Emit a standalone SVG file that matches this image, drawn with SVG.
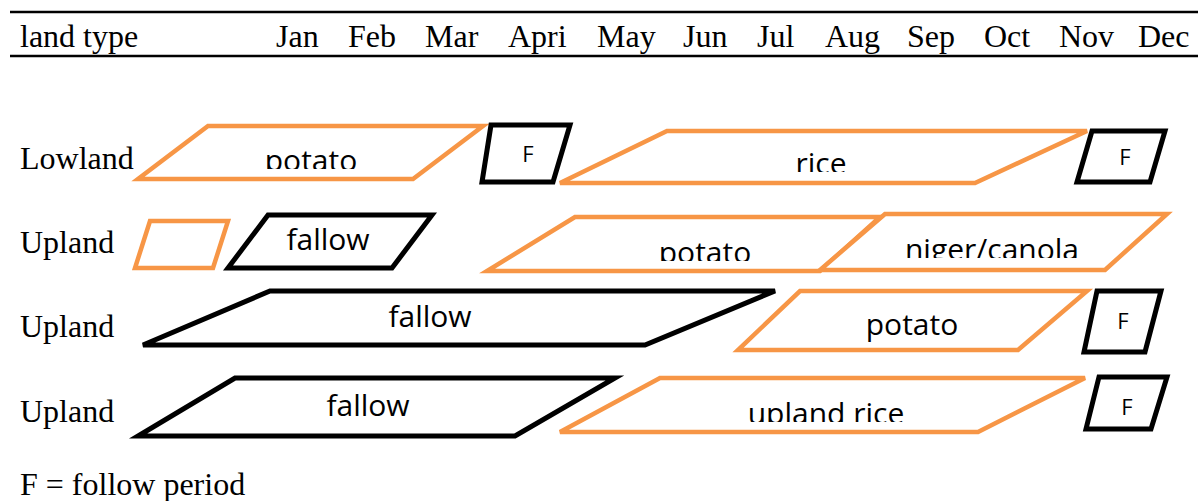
<svg xmlns="http://www.w3.org/2000/svg" width="1198" height="501" viewBox="0 0 1198 501">
<style>
.hd{font-family:"Liberation Serif","Times New Roman",serif;font-size:32px;fill:#000}
.lb{font-family:"Open Sans","DejaVu Sans",sans-serif;font-size:30px;fill:#000;text-anchor:middle}
.f{font-family:"Open Sans","DejaVu Sans",sans-serif;font-size:22px;fill:#000;text-anchor:middle}
.o{fill:#fff;stroke:#F79646;stroke-width:4.5;stroke-linejoin:miter}
.k{fill:#fff;stroke:#000;stroke-width:5;stroke-linejoin:miter}
</style>
<defs>
<clipPath id="c1"><rect x="0" y="0" width="1198" height="169"/></clipPath>
<clipPath id="c2"><rect x="0" y="0" width="1198" height="172"/></clipPath>
<clipPath id="c3"><rect x="0" y="0" width="1198" height="261"/></clipPath>
<clipPath id="c4"><rect x="0" y="0" width="1198" height="258"/></clipPath>
<clipPath id="c5"><rect x="0" y="0" width="1198" height="422"/></clipPath>
</defs>
<rect width="1198" height="501" fill="#fff"/>
<g id="header">
<line x1="10" y1="12" x2="1198" y2="12" stroke="#000" stroke-width="2.5"/>
<line x1="10" y1="56" x2="1198" y2="56" stroke="#000" stroke-width="2.5"/>
<text class="hd" x="20" y="47">land type</text>
<text class="hd" x="276" y="47">Jan</text>
<text class="hd" x="348" y="47">Feb</text>
<text class="hd" x="425" y="47">Mar</text>
<text class="hd" x="508" y="47">Apri</text>
<text class="hd" x="597" y="47">May</text>
<text class="hd" x="683" y="47">Jun</text>
<text class="hd" x="757" y="47">Jul</text>
<text class="hd" x="825" y="47">Aug</text>
<text class="hd" x="907" y="47">Sep</text>
<text class="hd" x="984" y="47">Oct</text>
<text class="hd" x="1059" y="47">Nov</text>
<text class="hd" x="1138" y="47">Dec</text>
</g>
<g id="row-labels">
<text class="hd" x="20" y="169">Lowland</text>
<text class="hd" x="20" y="253">Upland</text>
<text class="hd" x="20" y="337">Upland</text>
<text class="hd" x="20" y="422">Upland</text>
<text class="hd" x="20" y="495">F = follow period</text>
</g>
<g id="r1-potato"><polygon class="o" points="208,126 483,126 413,179 138,179"/><text class="lb" x="311" y="171" clip-path="url(#c1)">potato</text></g>
<g id="r1-f1"><polygon class="k" points="491,125 570,125 553,182 482,182"/><text class="f" x="528" y="162">F</text></g>
<g id="r1-rice"><polygon class="o" points="667,131 1087,131 975,183 560,183"/><text class="lb" x="821" y="174" clip-path="url(#c2)">rice</text></g>
<g id="r1-f2"><polygon class="k" points="1092,131 1165,131 1150,182 1077,182"/><text class="f" x="1125" y="165">F</text></g>
<g id="r2-small"><polygon class="o" points="150,221 228,221 213,268 135,268"/></g>
<g id="r2-fallow"><polygon class="k" points="268,215 432,215 392,268 228,268"/><text class="lb" x="328" y="250">fallow</text></g>
<g id="r2-potato"><polygon class="o" points="575,217 880,217 820,271 487,271"/><text class="lb" x="705" y="263" clip-path="url(#c3)">potato</text></g>
<g id="r2-niger"><polygon class="o" points="885,214 1167,214 1105,270 820,270"/><text class="lb" x="992" y="260" clip-path="url(#c4)">niger/canola</text></g>
<g id="r3-fallow"><polygon class="k" points="270,291 775,291 645,345 143,345"/><text class="lb" x="430" y="327">fallow</text></g>
<g id="r3-potato"><polygon class="o" points="800,291 1087,291 1018,350 738,350"/><text class="lb" x="912" y="335">potato</text></g>
<g id="r3-f"><polygon class="k" points="1097,291 1161,291 1145,352 1084,352"/><text class="f" x="1123" y="329">F</text></g>
<g id="r4-fallow"><polygon class="k" points="235,378 615,378 515,436 138,436"/><text class="lb" x="368" y="416">fallow</text></g>
<g id="r4-rice"><polygon class="o" points="660,378 1085,378 978,432 560,432"/><text class="lb" x="826" y="424" clip-path="url(#c5)">upland rice</text></g>
<g id="r4-f"><polygon class="k" points="1099,377 1167,377 1151,429 1086,429"/><text class="f" x="1127" y="415">F</text></g>
</svg>
